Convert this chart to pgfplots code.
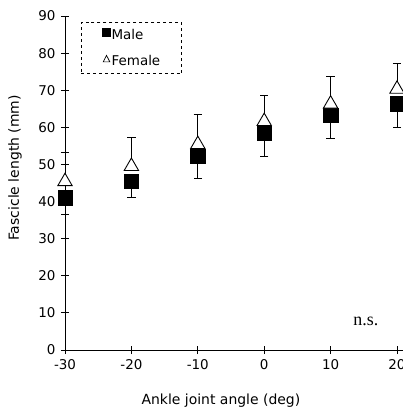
\documentclass[border=0pt]{standalone}
\usepackage{pgfplots}
\pgfplotsset{compat=1.18}
\usepackage{fontspec}
\setmainfont{DejaVu Sans}
\newfontfamily\nsfont{Liberation Serif}
\usetikzlibrary{calc}

\begin{document}
\begin{tikzpicture}
\begin{axis}[
  scale only axis, width=365.2bp, height=334bp,
  xmin=-30, xmax=25, ymin=0, ymax=90,
  axis x line=bottom, axis y line=left,
  axis line style={-, line width=0.9bp, black},
  xtick={-30,-20,...,20}, ytick={0,10,...,90},
  tick align=center, major tick length=8bp,
  tick style={line width=0.9bp, black},
  /pgf/number format/assume math mode=true,
  tick label style={font=\fontsize{13.5}{16}\selectfont},
  yticklabel style={xshift=-2bp},
  xticklabel style={yshift=-2bp},
  xlabel={Ankle joint angle (deg)},
  ylabel={Fascicle length (mm)},
  label style={font=\fontsize{14}{16}\selectfont},
  xlabel style={at={(axis description cs:0.427,-0.162)}, anchor=base},
  ylabel style={at={(axis description cs:-0.137,0.545)}, anchor=center},
  clip=false,
  legend style={at={(axis cs:-27.6,88.4)}, anchor=north west,
    draw=black, dashed, line width=0.8bp,
    font=\fontsize{13.5}{16}\selectfont,
    inner xsep=21bp, inner ysep=5bp, row sep=10bp,
    nodes={inner xsep=0.5bp}},
  legend cell align=left,
]
% male: mean and SD (down)
\addplot[only marks, mark=square*, mark size=7.2bp, forget plot,
  mark options={solid, fill=black, draw=black},
  error bars/.cd, y dir=minus, y explicit, error mark=-,
  error mark options={solid, rotate=90, mark size=4.2bp, line width=0.9bp, black},
  error bar style={solid, line width=0.9bp, black},
  ] table[x=x, y=y, y error=e] {
x    y     e
-30  41.0  4.6
-20  45.5  4.4
-10  52.2  5.9
0    58.4  6.3
10   63.3  6.4
20   66.4  6.4
};
% female: mean and SD (up)
\addplot[only marks, mark=triangle*, mark size=8.3bp, forget plot,
  mark options={solid, fill=white, draw=black, line width=0.9bp},
  error bars/.cd, y dir=plus, y explicit, error mark=-,
  error mark options={solid, rotate=90, mark size=4.2bp, line width=0.9bp, black},
  error bar style={solid, line width=0.9bp, black},
  ] table[x=x, y=y, y error=e] {
x    y     e
-30  45.4  7.8
-20  49.5  7.8
-10  55.4  8.2
0    61.6  7.1
10   66.3  7.3
20   70.3  7.0
};
\addlegendimage{legend image code/.code={\draw[solid, fill=black, draw=black] (0bp,-1bp) rectangle (8bp,7bp);}}
\addlegendentry{Male}
\addlegendimage{legend image code/.code={\draw[solid, draw=black, line width=0.7bp] (0.5bp,-1bp) -- (3.8bp,5.5bp) -- (7.1bp,-1bp) -- cycle;}}
\addlegendentry{Female}
\node[font=\nsfont\fontsize{18}{20}\selectfont, anchor=base] at (axis cs:15.3,6.7) {n.s.};
\coordinate (O) at (axis cs:-30,0);
\end{axis}
\pgfresetboundingbox
\path[use as bounding box] ($(O)+(-65bp,-57bp)$) rectangle ($(O)+(338bp,350bp)$);
\end{tikzpicture}
\end{document}
